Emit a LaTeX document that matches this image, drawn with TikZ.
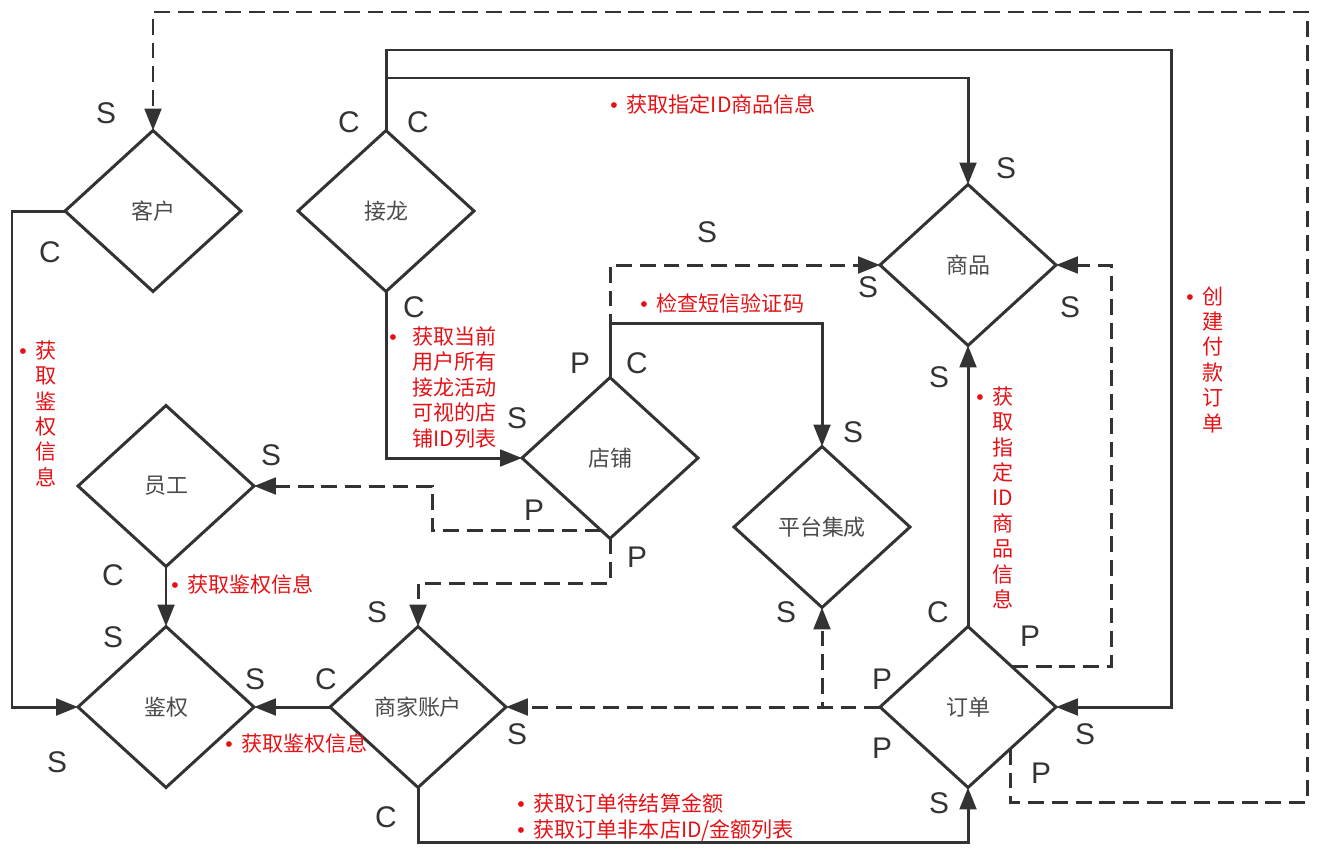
\documentclass[tikz,border=0pt]{standalone}
\usepackage{fontspec}
\setmainfont{Liberation Sans}
\newfontfamily\cjk{Noto Sans CJK SC}
\newfontfamily\latin{Liberation Sans}
\usetikzlibrary{shapes.geometric,arrows.meta,calc}
\definecolor{ln}{RGB}{51,51,51}
\definecolor{txtred}{RGB}{228,18,22}
\definecolor{boxtxt}{RGB}{75,75,75}
\newcommand\bul[1][5pt]{{\latin •}\hspace{#1}}
\newcommand\nob[1][5pt]{\hphantom{\bul[#1]}}
\begin{document}
\begin{tikzpicture}[x=0.02cm,y=-0.02cm,
  dia/.style={draw=ln,line width=1.7pt,shape=diamond,minimum width=3.52cm,minimum height=3.22cm,inner sep=0pt,outer sep=0pt,font=\cjk\fontsize{12.5}{15}\selectfont,text=boxtxt},
  lbl/.style={font=\fontsize{17}{20}\selectfont,text=ln,inner sep=0pt},
  note/.style={font=\cjk\fontsize{12}{14.5}\selectfont,text=txtred,inner sep=0pt,align=left},
  sld/.style={draw=ln,line width=1.7pt},
  dsh/.style={sld,dash pattern=on 9pt off 4.5pt},
  arr/.style={-{Triangle[length=12.5pt,width=9.5pt]}}]
\useasboundingbox (0,0) rectangle (1344,866);
\node[dia] (kehu) at (153,211) {客户};
\node[dia] (jielong) at (386,211) {接龙};
\node[dia] (shangpin) at (968,265) {商品};
\node[dia] (dianpu) at (610,458) {店铺};
\node[dia] (yuangong) at (166,486) {员工};
\node[dia] (pingtai) at (822,527) {平台集成};
\node[dia] (jianquan) at (166,707) {鉴权};
\node[dia] (shangjia) at (418,707) {商家账户};
\node[dia] (dingdan) at (968,707) {订单};
\coordinate (ddlow) at ($(dingdan.east)!0.52!(dingdan.south)$);
\coordinate (ddup) at ($(dingdan.north)!0.5!(dingdan.east)$);
\coordinate (dplow) at ($(dianpu.south)!0.1!(dianpu.west)$);
\draw[dsh,arr] (ddlow) |- (1307,802) -- (1307,12) -| (kehu.north);
\draw[sld,arr] (jielong.north) |- (1171,50) |- (dingdan.east);
\draw[sld,arr] (jielong.north) |- (968,78) -- (shangpin.north);
\draw[sld,arr] (kehu.west) -- (12,211) |- (jianquan.west);
\draw[sld,arr] (jielong.south) |- (dianpu.west);
\draw[dsh,arr] (dianpu.north) |- (shangpin.west);
\draw[sld,arr] (dianpu.north) -- (610,323) -| (pingtai.north);
\draw[dsh,arr] (dplow) -| (432,486) -- (yuangong.east);
\draw[dsh,arr] (dianpu.south) |- (418,583) -- (shangjia.north);
\draw[sld,arr] (yuangong.south) -- (jianquan.north);
\draw[sld,arr] (shangjia.west) -- (jianquan.east);
\draw[sld,arr] (shangjia.south) |- (968,842) -- (dingdan.south);
\draw[dsh,arr] (dingdan.west) -- (shangjia.east);
\draw[dsh,arr] (dingdan.west) -| (pingtai.south);
\draw[sld,arr] (dingdan.north) -- (shangpin.south);
\draw[dsh,arr] (ddup) -| (1111,265) -- (shangpin.east);
\node[lbl] (kehuS) at (106,113) {S};
\node[lbl] (kehuC) at (50,252) {C};
\node[lbl] (jlC1) at (349,122) {C};
\node[lbl] (jlC2) at (418,122) {C};
\node[lbl] (jlC3) at (414,307) {C};
\node[lbl] (spS1) at (1006,168) {S};
\node[lbl] (spS2) at (707,232) {S};
\node[lbl] (spS3) at (868,287) {S};
\node[lbl] (spS4) at (1070,307) {S};
\node[lbl] (spS5) at (939,377) {S};
\node[lbl] (dpP1) at (580,363) {P};
\node[lbl] (dpC) at (637,363) {C};
\node[lbl] (dpS) at (517,418) {S};
\node[lbl] (dpP2) at (534,510) {P};
\node[lbl] (dpP3) at (637,557) {P};
\node[lbl] (ptS1) at (853,432) {S};
\node[lbl] (ptS2) at (786,612) {S};
\node[lbl] (ygS) at (271,455) {S};
\node[lbl] (ygC) at (113,575) {C};
\node[lbl] (jqS1) at (113,637) {S};
\node[lbl] (jqS2) at (255,679) {S};
\node[lbl] (jqS3) at (57,762) {S};
\node[lbl] (sjC1) at (326,679) {C};
\node[lbl] (sjS1) at (377,612) {S};
\node[lbl] (sjS2) at (517,734) {S};
\node[lbl] (sjC2) at (386,817) {C};
\node[lbl] (ddC) at (938,612) {C};
\node[lbl] (ddP1) at (1030,636) {P};
\node[lbl] (ddP2) at (882,679) {P};
\node[lbl] (ddP3) at (882,748) {P};
\node[lbl] (ddS1) at (1085,734) {S};
\node[lbl] (ddP4) at (1041,773) {P};
\node[lbl] (ddS2) at (939,803) {S};
\node[note,anchor=west] (spinfo) at (610,104) {\bul 获取指定ID商品信息};
\node[note,anchor=west] (sms) at (640,303) {\bul 检查短信验证码};
\node[note,anchor=north west] (kqauth) at (19,340) {\bul 获\\\nob 取\\\nob 鉴\\\nob 权\\\nob 信\\\nob 息};
\node[note,anchor=north west] (shoplist) at (389,326) {\bul[9pt]获取当前\\\nob[9pt]用户所有\\\nob[9pt]接龙活动\\\nob[9pt]可视的店\\\nob[9pt]铺ID列表};
\node[note,anchor=north west] (payorder) at (1186,286) {\bul 创\\\nob 建\\\nob 付\\\nob 款\\\nob 订\\\nob 单};
\node[note,anchor=north west] (ddinfo) at (976,386) {\bul 获\\\nob 取\\\nob 指\\\nob 定\\\nob ID\\\nob 商\\\nob 品\\\nob 信\\\nob 息};
\node[note,anchor=west] (ygauth) at (171,584) {\bul 获取鉴权信息};
\node[note,anchor=west] (sjauth) at (225,743) {\bul 获取鉴权信息};
\node[note,anchor=north west,font=\cjk\fontsize{12}{14.7}\selectfont] (amount) at (517,793) {\bul 获取订单待结算金额\\\bul 获取订单非本店ID/金额列表};
\end{tikzpicture}
\end{document}
